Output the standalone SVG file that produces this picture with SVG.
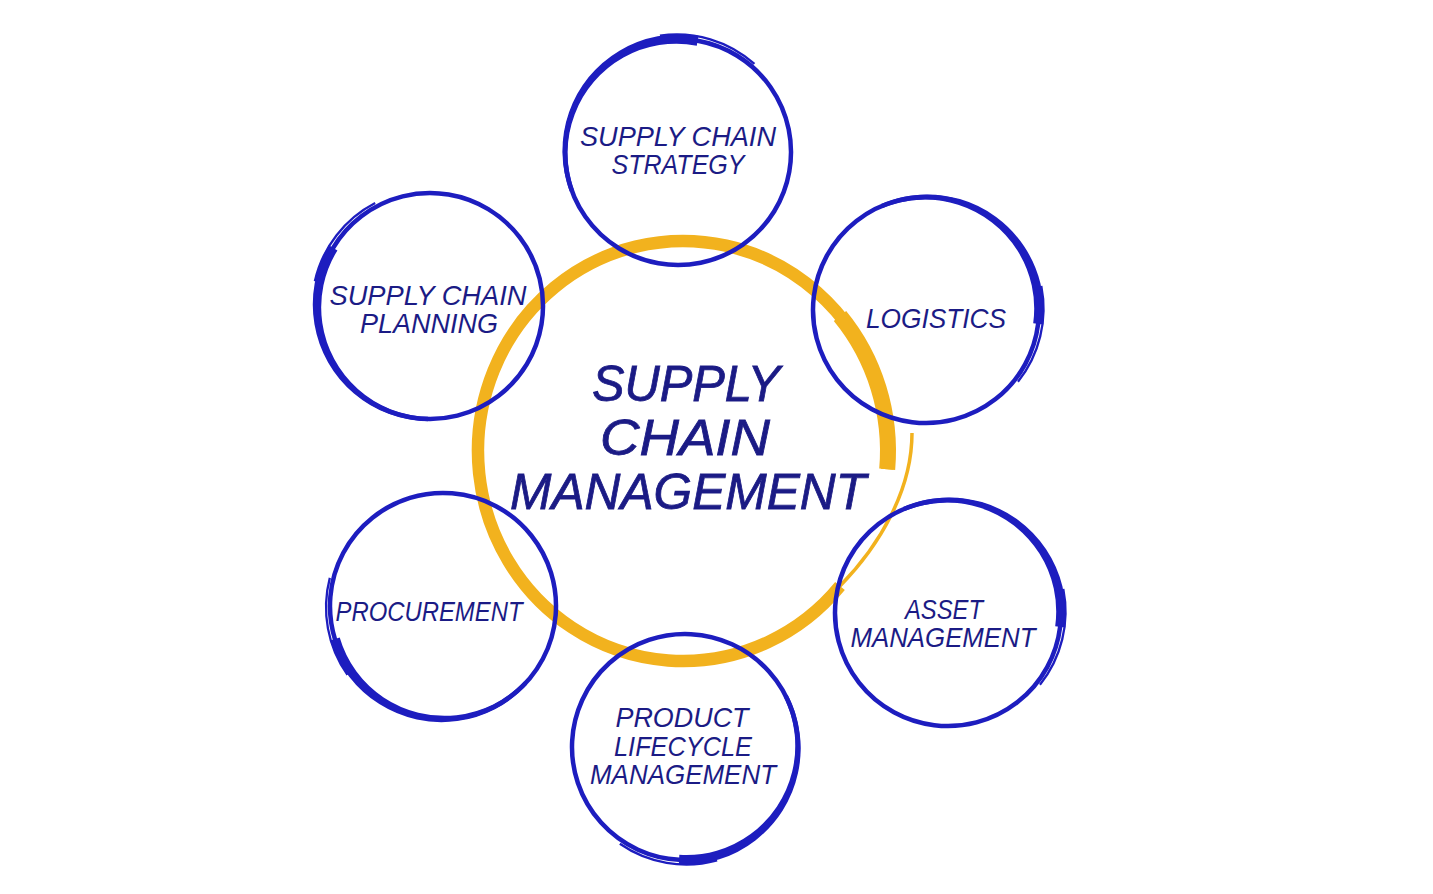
<svg xmlns="http://www.w3.org/2000/svg" xmlns:xlink="http://www.w3.org/1999/xlink" width="1433" height="894" viewBox="0 0 1433 894">
<style>
.b{fill:none;stroke:#1d1dbf;stroke-linecap:butt}
.bf{fill:#1d1dbf;stroke:none}
.y{fill:none;stroke:#f2b21e;stroke-linecap:butt}
.t{font-family:"Liberation Sans",Arial,sans-serif;font-style:italic;fill:#1b1b85;text-anchor:middle}
.s{font-size:28px}
.l{font-size:50px;stroke:#1b1b85;stroke-width:0.8}
</style>
<defs>
<g id="brush">
<circle class="b" cx="0" cy="0" r="113" stroke-width="4.5"/>
<path class="bf" d="M118,0 A117.7,117.7 0 0 0 110.4,-40.2 A117.2,117.2 0 0 0 89.6,-75.2 A116.7,116.7 0 0 0 58.25,-100.9 A116.2,116.2 0 0 0 20.1,-114.2 A115.7,115.7 0 0 0 -20.05,-113.75 A115.4,115.4 0 0 0 -57.6,-99.8 L-55.4,-95.9 A110.6,110.6 0 0 1 -19.2,-108.8 A110.2,110.2 0 0 1 19.1,-108.3 A109.7,109.7 0 0 1 54.75,-94.8 A109.2,109.2 0 0 1 83.5,-70.1 A108.7,108.7 0 0 1 102,-37.1 A108.2,108.2 0 0 1 108,0 Z"/>
<path class="b" d="M100,60 A117,117 0 0 0 111.5,-38" stroke-width="2.3"/>
</g>
</defs>
<rect width="1433" height="894" fill="#ffffff"/>
<g id="center">
<path class="y" d="M887.2,469.3 A205,210 0 1 0 840,586" stroke-width="12.5"/>
<path class="y" d="M887.2,469.3 A205,210 0 0 0 840,316" stroke-width="16"/>
<path class="y" d="M840,586 C880,545 912,490 912,433" stroke-width="3.5"/>
</g>
<g id="connectors"></g>
<g id="strategy">
<use xlink:href="#brush" transform="translate(678,152) rotate(-80)"/>
<text class="t s" x="678" y="146" textLength="196" lengthAdjust="spacingAndGlyphs">SUPPLY CHAIN</text>
<text class="t s" x="678" y="174" textLength="133" lengthAdjust="spacingAndGlyphs">STRATEGY</text>
</g>
<g id="planning">
<use xlink:href="#brush" transform="translate(430,306) rotate(-149)"/>
<text class="t s" x="428" y="305" textLength="197" lengthAdjust="spacingAndGlyphs">SUPPLY CHAIN</text>
<text class="t s" x="429" y="333" textLength="138" lengthAdjust="spacingAndGlyphs">PLANNING</text>
</g>
<g id="logistics">
<use xlink:href="#brush" transform="translate(926,310) rotate(7)"/>
<text class="t s" x="936" y="328" textLength="140" lengthAdjust="spacingAndGlyphs">LOGISTICS</text>
</g>
<g id="procurement">
<use xlink:href="#brush" transform="translate(443,606) rotate(163)"/>
<text class="t s" x="429" y="621" textLength="187" lengthAdjust="spacingAndGlyphs">PROCUREMENT</text>
</g>
<g id="asset">
<use xlink:href="#brush" transform="translate(948,613) rotate(7)"/>
<text class="t s" x="944" y="619" textLength="78" lengthAdjust="spacingAndGlyphs">ASSET</text>
<text class="t s" x="943" y="647" textLength="185" lengthAdjust="spacingAndGlyphs">MANAGEMENT</text>
</g>
<g id="product">
<use xlink:href="#brush" transform="translate(685,747) rotate(93)"/>
<text class="t s" x="682" y="727" textLength="133" lengthAdjust="spacingAndGlyphs">PRODUCT</text>
<text class="t s" x="683" y="756" textLength="138" lengthAdjust="spacingAndGlyphs">LIFECYCLE</text>
<text class="t s" x="683" y="784" textLength="186" lengthAdjust="spacingAndGlyphs">MANAGEMENT</text>
</g>
<g id="center-label">
<text class="t l" x="686" y="401" textLength="188" lengthAdjust="spacingAndGlyphs">SUPPLY</text>
<text class="t l" x="685" y="455" textLength="170" lengthAdjust="spacingAndGlyphs">CHAIN</text>
<text class="t l" x="688" y="509" textLength="356" lengthAdjust="spacingAndGlyphs">MANAGEMENT</text>
</g>
</svg>
